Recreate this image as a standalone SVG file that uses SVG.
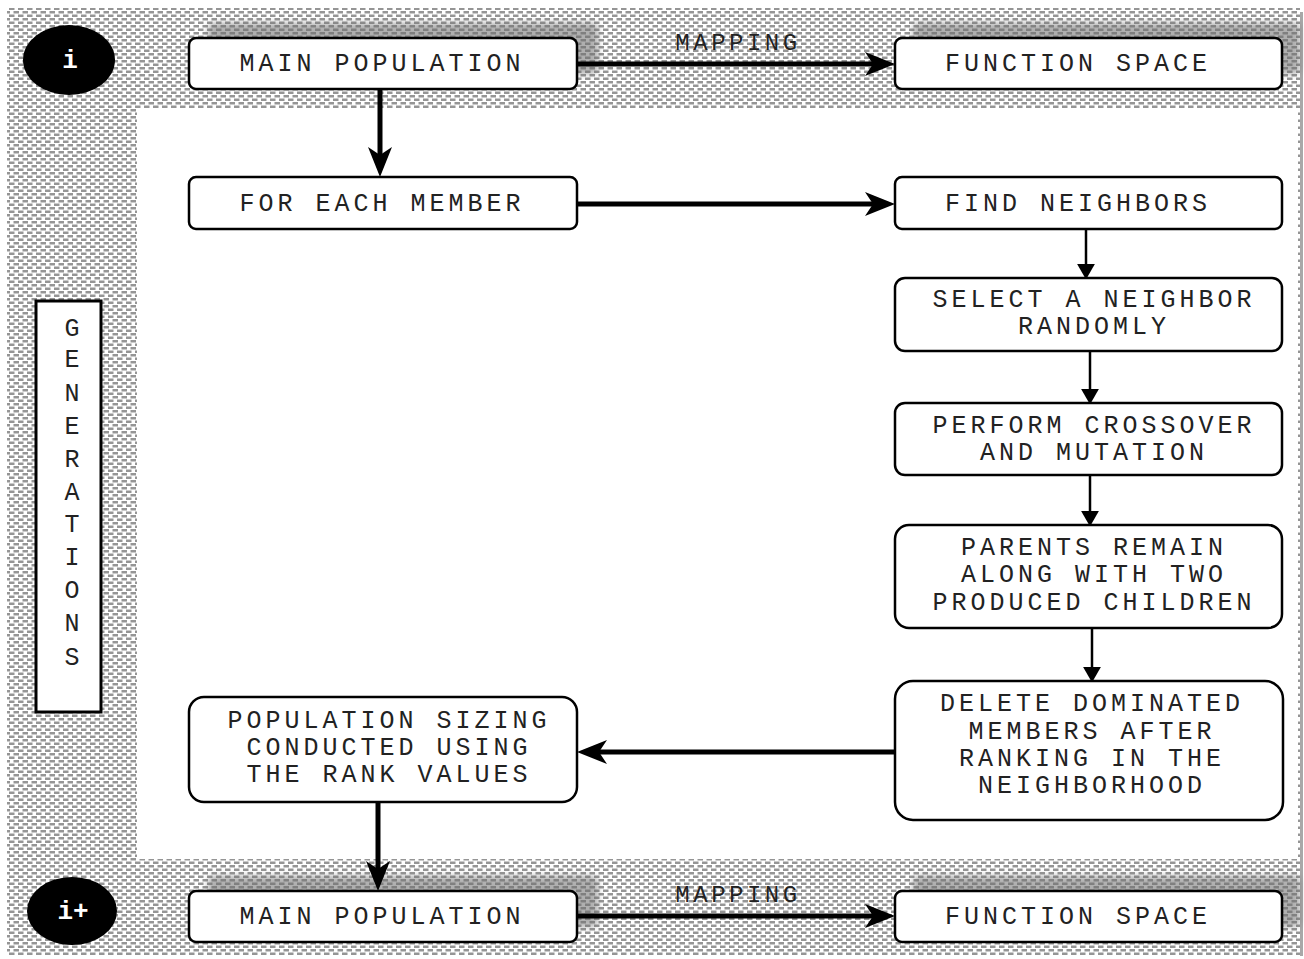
<svg xmlns="http://www.w3.org/2000/svg" width="1304" height="959" viewBox="0 0 1304 959">
<defs>
<pattern id="tex" width="9" height="7" patternUnits="userSpaceOnUse">
<rect width="9" height="7" fill="#ffffff"/>
<rect x="0" y="0.5" width="5.5" height="2.5" fill="#959595"/>
<rect x="4.5" y="4" width="5.5" height="2.5" fill="#959595"/>
<rect x="-4.5" y="4" width="5.5" height="2.5" fill="#959595"/>
</pattern>
<filter id="blur" x="-10%" y="-30%" width="120%" height="160%">
<feGaussianBlur stdDeviation="3"/>
</filter>
<marker id="big" markerUnits="userSpaceOnUse" markerWidth="40" markerHeight="30" viewBox="-10 -14 40 28" refX="0" refY="0" orient="auto" overflow="visible">
<path d="M-8,-12 L22,0 L-8,12 L0,0 Z" fill="#000"/>
</marker>
<marker id="small" markerUnits="userSpaceOnUse" markerWidth="20" markerHeight="20" viewBox="-2 -9 18 18" refX="0" refY="0" orient="auto" overflow="visible">
<path d="M0,-8 L14,0 L0,8 Z" fill="#000"/>
</marker>
</defs>
<style>
.box{fill:#fff;stroke:#000;stroke-width:2.5}
.t{font-family:"Liberation Mono","Courier New",monospace;font-size:25px;letter-spacing:4px;fill:#222;text-anchor:middle}
.map{font-family:"Liberation Mono","Courier New",monospace;font-size:24px;letter-spacing:3.5px;fill:#222;text-anchor:middle}
.ct{font-family:"Liberation Mono","Courier New",monospace;font-size:26px;font-weight:bold;fill:#fff;text-anchor:middle}
.thick{stroke:#000;stroke-width:5;fill:none}
.thin{stroke:#000;stroke-width:2.5;fill:none}
.sh{fill:#6e6e6e;opacity:0.55;filter:url(#blur)}
</style>

<g id="background">
<rect x="7" y="8" width="1293" height="948" fill="url(#tex)"/>
<rect x="137" y="108" width="1161" height="751" fill="#fff"/>
<rect x="1300" y="12" width="3" height="944" fill="#a8a8a8"/>
<rect class="sh" x="208" y="23" width="390" height="51" rx="6"/>
<rect class="sh" x="913" y="23" width="387" height="51" rx="6"/>
<rect class="sh" x="208" y="876" width="390" height="51" rx="6"/>
<rect class="sh" x="913" y="876" width="387" height="51" rx="6"/>
</g>

<g id="connectors">
<line class="thick" x1="577" y1="64" x2="873" y2="64" marker-end="url(#big)"/>
<text class="map" x="738" y="50">MAPPING</text>
<line class="thick" x1="577" y1="916" x2="873" y2="916" marker-end="url(#big)"/>
<text class="map" x="738" y="902">MAPPING</text>
<line class="thick" x1="380" y1="89" x2="380" y2="155" marker-end="url(#big)"/>
<line class="thick" x1="577" y1="204" x2="873" y2="204" marker-end="url(#big)"/>
<line class="thin" x1="1086" y1="229" x2="1086" y2="264" marker-end="url(#small)"/>
<line class="thin" x1="1090" y1="351" x2="1090" y2="389" marker-end="url(#small)"/>
<line class="thin" x1="1090" y1="475" x2="1090" y2="511" marker-end="url(#small)"/>
<line class="thin" x1="1092" y1="628" x2="1092" y2="667" marker-end="url(#small)"/>
<line class="thick" x1="895" y1="752" x2="599" y2="752" marker-end="url(#big)"/>
<line class="thick" x1="378" y1="802" x2="378" y2="869" marker-end="url(#big)"/>
</g>

<g id="gen-i">
<ellipse cx="69" cy="60" rx="46" ry="35" fill="#000"/>
<text class="ct" x="70" y="68">i</text>
</g>
<g id="gen-i-plus">
<ellipse cx="72" cy="911" rx="45" ry="34" fill="#000"/>
<text class="ct" x="73" y="919">i+</text>
</g>

<g id="main-population-top">
<rect class="box" x="189" y="38" width="388" height="51" rx="7"/>
<text class="t" x="382" y="71">MAIN POPULATION</text>
</g>
<g id="function-space-top">
<rect class="box" x="895" y="38" width="387" height="51" rx="7"/>
<text class="t" x="1078" y="71">FUNCTION SPACE</text>
</g>
<g id="for-each-member">
<rect class="box" x="189" y="177" width="388" height="52" rx="7"/>
<text class="t" x="382" y="211">FOR EACH MEMBER</text>
</g>
<g id="find-neighbors">
<rect class="box" x="895" y="177" width="387" height="52" rx="7"/>
<text class="t" x="1078" y="211">FIND NEIGHBORS</text>
</g>
<g id="select-neighbor">
<rect class="box" x="895" y="278" width="387" height="73" rx="10"/>
<text class="t" x="1094" y="307">SELECT A NEIGHBOR</text>
<text class="t" x="1094" y="334">RANDOMLY</text>
</g>
<g id="crossover">
<rect class="box" x="895" y="403" width="387" height="72" rx="10"/>
<text class="t" x="1094" y="433">PERFORM CROSSOVER</text>
<text class="t" x="1094" y="460">AND MUTATION</text>
</g>
<g id="parents-remain">
<rect class="box" x="895" y="525" width="387" height="103" rx="14"/>
<text class="t" x="1094" y="555">PARENTS REMAIN</text>
<text class="t" x="1094" y="582">ALONG WITH TWO</text>
<text class="t" x="1094" y="610">PRODUCED CHILDREN</text>
</g>
<g id="delete-dominated">
<rect class="box" x="895" y="681" width="388" height="139" rx="18"/>
<text class="t" x="1092" y="711">DELETE DOMINATED</text>
<text class="t" x="1092" y="739">MEMBERS AFTER</text>
<text class="t" x="1092" y="766">RANKING IN THE</text>
<text class="t" x="1092" y="793">NEIGHBORHOOD</text>
</g>
<g id="population-sizing">
<rect class="box" x="189" y="697" width="388" height="105" rx="15"/>
<text class="t" x="389" y="728">POPULATION SIZING</text>
<text class="t" x="389" y="755">CONDUCTED USING</text>
<text class="t" x="389" y="782">THE RANK VALUES</text>
</g>
<g id="main-population-bottom">
<rect class="box" x="189" y="891" width="388" height="51" rx="7"/>
<text class="t" x="382" y="924">MAIN POPULATION</text>
</g>
<g id="function-space-bottom">
<rect class="box" x="895" y="891" width="387" height="51" rx="7"/>
<text class="t" x="1078" y="924">FUNCTION SPACE</text>
</g>

<g id="generations">
<rect x="36" y="301" width="65" height="411" fill="#fff" stroke="#000" stroke-width="3"/>
<text class="t" style="letter-spacing:0" x="72" y="336">G</text>
<text class="t" style="letter-spacing:0" x="72" y="367">E</text>
<text class="t" style="letter-spacing:0" x="72" y="401">N</text>
<text class="t" style="letter-spacing:0" x="72" y="434">E</text>
<text class="t" style="letter-spacing:0" x="72" y="467">R</text>
<text class="t" style="letter-spacing:0" x="72" y="500">A</text>
<text class="t" style="letter-spacing:0" x="72" y="532">T</text>
<text class="t" style="letter-spacing:0" x="72" y="565">I</text>
<text class="t" style="letter-spacing:0" x="72" y="598">O</text>
<text class="t" style="letter-spacing:0" x="72" y="631">N</text>
<text class="t" style="letter-spacing:0" x="72" y="665">S</text>
</g>
</svg>
